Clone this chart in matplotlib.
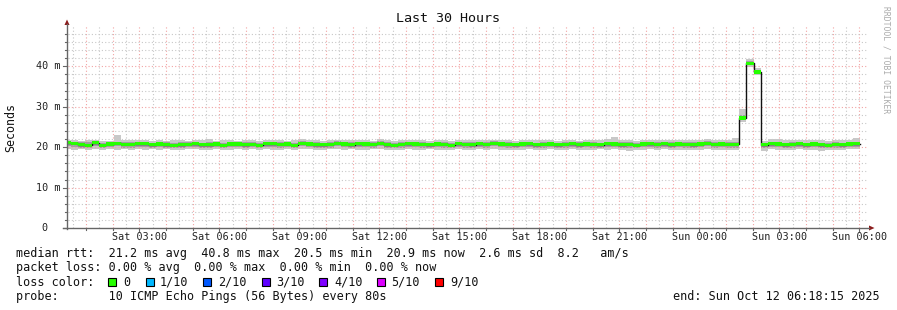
import numpy as np
import matplotlib
matplotlib.use("Agg")
import matplotlib.pyplot as plt
import matplotlib.transforms as mtrans
from matplotlib.lines import Line2D
from matplotlib.patches import Rectangle, Polygon

# ---------------- data ----------------
START_MIN = 10      # first 16-min step starts Sat 00:10
STEP_MIN = 16
X_START_H = 0.3042  # Sat 00:18:15
X_END_H = 30.3042   # Sun 06:18:15

median_ms = [
    21.1, 21.0, 20.6, 20.5, 21.1, 20.5, 20.8, 21.0, 20.7, 20.7, 20.9, 20.9, 20.6, 20.8,
    20.6, 20.5, 20.6, 20.7, 20.9, 20.6, 20.6, 20.8, 20.5, 20.8, 20.8, 20.6, 20.7, 20.5,
    20.9, 20.9, 20.7, 20.8, 20.5, 21.0, 20.8, 20.6, 20.6, 20.7, 21.0, 20.8, 20.6, 20.9,
    20.8, 20.7, 21.0, 20.6, 20.5, 20.7, 20.9, 20.8, 20.7, 20.6, 20.8, 20.7, 20.5, 20.9,
    20.7, 20.6, 20.9, 20.7, 21.0, 20.8, 20.7, 20.6, 20.8, 20.9, 20.6, 20.7, 20.8, 20.6,
    20.7, 20.9, 20.6, 20.8, 20.7, 20.6, 20.9, 20.8, 20.6, 20.7, 20.5, 20.8, 20.9, 20.7,
    20.9, 20.6, 20.8, 20.7, 20.6, 20.8, 21.0, 20.7, 20.8, 20.7, 20.7,
    27.2, 40.8, 38.6,
    20.6, 20.9, 20.8, 20.6, 20.7, 20.9, 20.6, 20.8, 20.6, 20.5, 20.7, 20.6, 20.8, 20.9,
]

smoke_max = [
    21.9, 21.7, 21.6, 21.8, 21.7, 21.5, 21.6, 22.9, 21.7, 21.8, 21.7, 21.9, 21.6, 21.7,
    21.6, 21.7, 21.9, 21.6, 21.8, 21.7, 22.0, 21.6, 21.7, 21.8, 21.6, 21.9, 21.7, 21.6,
    21.8, 21.9, 21.7, 21.6, 21.7, 22.1, 21.8, 21.7, 21.6, 21.8, 21.9, 21.7, 21.7, 21.8,
    21.8, 21.6, 22.0, 21.7, 21.6, 21.8, 21.9, 21.7, 21.7, 21.6, 21.8, 21.7, 21.6, 21.9,
    21.8, 21.7, 21.9, 21.7, 21.9, 21.8, 21.7, 21.6, 21.8, 21.9, 21.7, 21.7, 21.8, 21.6,
    21.7, 21.9, 21.6, 21.8, 21.7, 21.7, 22.0, 22.6, 21.8, 21.7, 21.6, 21.8, 21.9, 21.7,
    21.9, 21.7, 21.9, 21.8, 21.7, 21.8, 22.0, 21.8, 21.9, 21.8, 22.3,
    29.4, 41.8, 39.7,
    21.6, 22.0, 22.0, 21.7, 21.8, 21.9, 21.7, 21.8, 21.7, 21.6, 21.9, 21.8, 21.9, 22.4,
]

smoke_min = [
    19.5, 19.4, 19.6, 19.3, 19.6, 19.2, 19.5, 19.4, 19.5, 19.3, 19.5, 19.4, 19.6, 19.3,
    19.5, 19.2, 19.4, 19.6, 19.5, 19.3, 19.4, 19.5, 19.2, 19.4, 19.5, 19.3, 19.6, 19.4,
    19.5, 19.4, 19.3, 19.5, 19.2, 19.6, 19.5, 19.4, 19.3, 19.5, 19.6, 19.4, 19.5, 19.3,
    19.4, 19.5, 19.6, 19.3, 19.2, 19.4, 19.5, 19.4, 19.3, 19.5, 19.4, 19.3, 19.2, 19.5,
    19.4, 19.3, 19.5, 19.4, 19.6, 19.4, 19.3, 19.2, 19.4, 19.5, 19.3, 19.4, 19.5, 19.3,
    19.3, 19.5, 19.2, 19.4, 19.3, 19.5, 19.4, 19.5, 19.3, 19.0, 19.2, 19.4, 19.5, 19.3,
    19.5, 19.2, 19.4, 19.3, 19.2, 19.4, 19.6, 19.3, 19.4, 19.3, 19.4,
    26.2, 39.9, 37.9,
    19.1, 19.5, 19.4, 19.2, 19.3, 19.5, 19.2, 19.4, 19.1, 19.2, 19.3, 19.4, 19.5, 19.6,
]

smoke_hi = [
    21.5, 21.4, 21.2, 21.3, 21.5, 21.1, 21.2, 21.4, 21.2, 21.3, 21.4, 21.4, 21.1, 21.3,
    21.2, 21.1, 21.3, 21.2, 21.4, 21.1, 21.2, 21.3, 21.1, 21.3, 21.3, 21.2, 21.3, 21.1,
    21.4, 21.4, 21.2, 21.3, 21.1, 21.5, 21.3, 21.2, 21.1, 21.3, 21.5, 21.3, 21.2, 21.4,
    21.3, 21.2, 21.5, 21.2, 21.1, 21.2, 21.4, 21.3, 21.3, 21.1, 21.3, 21.2, 21.1, 21.4,
    21.3, 21.2, 21.4, 21.2, 21.5, 21.3, 21.2, 21.1, 21.3, 21.4, 21.1, 21.2, 21.3, 21.1,
    21.2, 21.4, 21.2, 21.3, 21.2, 21.1, 21.4, 21.4, 21.2, 21.2, 21.0, 21.3, 21.4, 21.2,
    21.4, 21.2, 21.3, 21.3, 21.2, 21.3, 21.5, 21.2, 21.3, 21.2, 21.3,
    28.0, 41.3, 39.2,
    21.1, 21.4, 21.3, 21.1, 21.2, 21.4, 21.1, 21.3, 21.1, 21.0, 21.2, 21.1, 21.3, 21.4,
]

smoke_lo = [
    20.2, 20.1, 19.9, 19.8, 20.3, 19.8, 20.0, 20.2, 19.9, 19.9, 20.1, 20.1, 19.9, 20.0,
    19.9, 19.7, 19.8, 20.0, 20.1, 19.8, 19.9, 20.0, 19.7, 20.0, 20.0, 19.8, 20.0, 19.8,
    20.1, 20.1, 19.9, 20.0, 19.7, 20.2, 20.0, 19.9, 19.8, 19.9, 20.2, 20.0, 19.9, 20.1,
    20.0, 19.9, 20.2, 19.8, 19.7, 19.9, 20.1, 20.0, 19.9, 19.8, 20.0, 19.9, 19.7, 20.1,
    19.9, 19.8, 20.1, 19.9, 20.2, 20.0, 19.9, 19.8, 20.0, 20.1, 19.8, 19.9, 20.0, 19.8,
    19.9, 20.1, 19.8, 20.0, 19.9, 19.8, 20.1, 20.0, 19.8, 19.9, 19.7, 20.0, 20.1, 19.9,
    20.1, 19.8, 20.0, 19.9, 19.8, 20.0, 20.2, 19.9, 20.0, 19.9, 19.9,
    26.7, 40.4, 38.2,
    19.8, 20.1, 20.0, 19.8, 19.9, 20.1, 19.8, 20.0, 19.8, 19.7, 19.9, 19.8, 20.0, 20.1,
]

x_tick_hours = [3, 6, 9, 12, 15, 18, 21, 24, 27, 30]
x_tick_labels = ["Sat 03:00", "Sat 06:00", "Sat 09:00", "Sat 12:00", "Sat 15:00",
                 "Sat 18:00", "Sat 21:00", "Sun 00:00", "Sun 03:00", "Sun 06:00"]
y_tick_values = [0, 10, 20, 30, 40]
y_tick_labels = ["0  ", "10 m", "20 m", "30 m", "40 m"]

loss_labels = ["0", "1/10", "2/10", "3/10", "4/10", "5/10", "9/10"]
loss_colors = ["#26ff00", "#00b8ff", "#0059ff", "#5e00ff", "#7e00ff", "#dd00ff", "#ff0000"]

legend_lines = [
    "median rtt:  21.2 ms avg  40.8 ms max  20.5 ms min  20.9 ms now  2.6 ms sd  8.2   am/s",
    "packet loss: 0.00 % avg  0.00 % max  0.00 % min  0.00 % now",
    "loss color:",
    "probe:       10 ICMP Echo Pings (56 Bytes) every 80s",
]
end_text = "end: Sun Oct 12 06:18:15 2025"

# ---------------- figure ----------------
W, H = 897, 310
MONO = "DejaVu Sans Mono"
fig = plt.figure(figsize=(W / 100, H / 100), dpi=100)
fig.patch.set_facecolor("white")


def fx(x):
    return x / W


def fy(y):
    return 1 - y / H


ax = fig.add_axes([fx(67.5), fy(228), 800 / W, 202 / H])
ax.set_xlim(X_START_H, X_END_H)
ax.set_ylim(0, 50)
ax.set_facecolor("white")
for s in ax.spines.values():
    s.set_visible(False)
ax.set_xticks([])
ax.set_yticks([])

n = len(median_ms)
edges = (START_MIN + STEP_MIN * np.arange(n + 1)) / 60.0


def ext(v):
    v = np.asarray(v, dtype=float)
    return np.append(v, v[-1])


med = ext(median_ms)
ax.fill_between(edges, ext(smoke_min), ext(smoke_max), step="post",
                color="#c8c8c8", lw=0, zorder=1)
ax.fill_between(edges, ext(smoke_lo), ext(smoke_hi), step="post",
                color="#a0a0a0", lw=0, zorder=2)

# grid (drawn over the smoke as rrdtool does)
grid_kw = dict(lw=0.8, linestyle=(0, (1, 2)), zorder=3)
for h in np.arange(0.5, 31, 0.5):
    if X_START_H < h < X_END_H and abs(h - round(h)) > 1e-6:
        ax.axvline(h, color="#c8c8c8", **grid_kw)
for h in range(1, 31):
    ax.axvline(h, color="#f2a4a4", **grid_kw)
for v in range(2, 50, 2):
    if v % 10:
        ax.axhline(v, color="#c8c8c8", **grid_kw)
for v in range(10, 50, 10):
    ax.axhline(v, color="#f2a4a4", **grid_kw)

# median: black step line + green loss band
ax.step(edges, med, where="post", color="#111111", lw=1.0, zorder=4)
ax.fill_between(edges, med - 0.4, med + 0.4, step="post",
                color=loss_colors[0], lw=0, zorder=5)

# tick labels
xfig = mtrans.blended_transform_factory(ax.transData, fig.transFigure)
for h, lab in zip(x_tick_hours, x_tick_labels):
    ax.text(h, fy(237.5), lab, transform=xfig, ha="center", va="center",
            family=MONO, fontsize=7.3, color="#222222")
yfig = mtrans.blended_transform_factory(fig.transFigure, ax.transData)
for v, lab in zip(y_tick_values, y_tick_labels):
    ax.text(fx(60.5), v, lab, transform=yfig, ha="right", va="center",
            family=MONO, fontsize=7.3, color="#222222")

# axes lines, ticks and arrows
axis_col = "#666666"
fig.add_artist(Line2D([fx(67), fx(67)], [fy(229), fy(24)], color=axis_col, lw=1))
fig.add_artist(Line2D([fx(63), fx(869)], [fy(228), fy(228)], color=axis_col, lw=1))
arrow_col = "#8b1a1a"
fig.add_artist(Polygon([[fx(64.5), fy(25)], [fx(69.5), fy(25)], [fx(67), fy(19.5)]],
                       closed=True, color=arrow_col, lw=0))
fig.add_artist(Polygon([[fx(869), fy(225.5)], [fx(869), fy(230.5)], [fx(874.5), fy(228)]],
                       closed=True, color=arrow_col, lw=0))
for v in range(0, 50, 2):
    L = 4 if v % 10 == 0 else 2
    ax.add_line(Line2D([fx(67 - L), fx(67)], [v, v], transform=yfig, color=axis_col,
                       lw=0.8, clip_on=False))
for h in range(1, 31):
    L = 3 if h % 3 == 0 else 2
    ax.add_line(Line2D([h, h], [fy(228), fy(228 + L)], transform=xfig, color=axis_col,
                       lw=0.8, clip_on=False))

# titles
fig.text(fx(448), fy(19), "Last 30 Hours", ha="center", va="center",
         family=MONO, fontsize=9.6, color="#111111")
fig.text(fx(11), fy(127), "Seconds", ha="center", va="center", rotation=90,
         family=MONO, fontsize=8.4, color="#111111")
fig.text(fx(886), fy(60), "RRDTOOL / TOBI OETIKER", ha="center", va="center",
         rotation=-90, family=MONO, fontsize=5.8, color="#aaaaaa")

# legend
line_y = [254, 268, 282, 296.5]
for txt, yy in zip(legend_lines, line_y):
    fig.text(fx(16), fy(yy), txt, ha="left", va="center", family=MONO,
             fontsize=8.5, color="#111111")
box_x = [108, 146, 203, 262, 319, 377, 435]
text_x = [123, 160, 218, 276, 334, 391, 450]
for bx, tx, col, lab in zip(box_x, text_x, loss_colors, loss_labels):
    fig.add_artist(Rectangle((fx(bx), fy(286)), 8 / W, 8 / H, facecolor=col,
                             edgecolor="#000000", lw=0.8))
    fig.text(fx(tx), fy(282), lab, ha="left", va="center", family=MONO,
             fontsize=8.5, color="#111111")
fig.text(fx(880), fy(296.5), end_text, ha="right", va="center", family=MONO,
         fontsize=8.5, color="#111111")

fig.savefig("out.png", dpi=100)
